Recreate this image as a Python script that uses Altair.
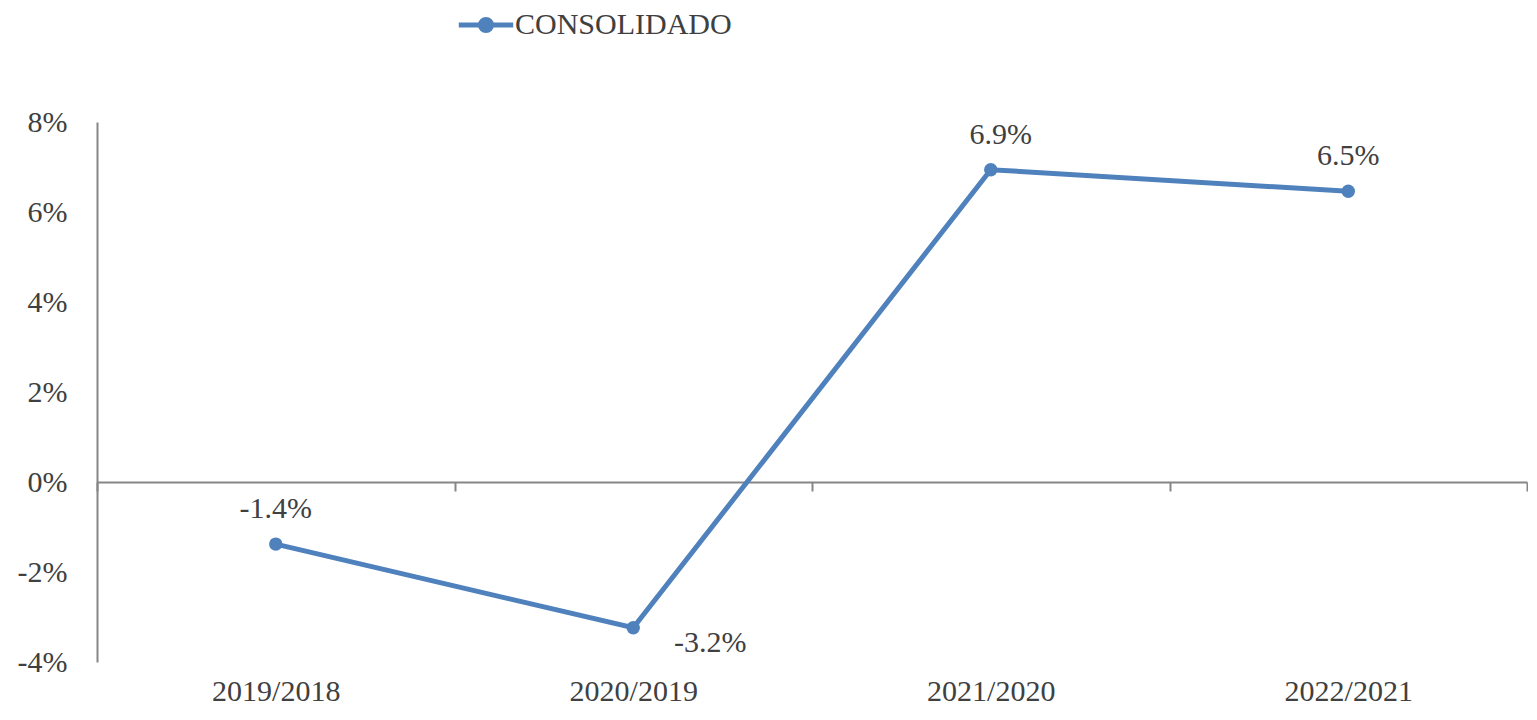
import altair as alt
import pandas as pd

categories = ["2019/2018", "2020/2019", "2021/2020", "2022/2021"]
values = [-1.38, -3.24, 6.94, 6.46]
series_name = "CONSOLIDADO"
y_ticks = [-4, -2, 0, 2, 4, 6, 8]

df = pd.DataFrame({"periodo": categories, "valor": values, "serie": [series_name] * len(categories)})

FONT = "Liberation Serif"
FS = 30
TEXT = "#404040"
AXIS = "#868686"
BLUE = "#4F81BD"

legend_path = ("M-3.4,0L3.4,0"
               "M0.69,0A0.69,0.69,0,1,1,-0.69,0A0.69,0.69,0,1,1,0.69,0"
               "M0.25,0A0.25,0.25,0,1,1,-0.25,0A0.25,0.25,0,1,1,0.25,0")

x_enc = alt.X(
    "periodo:N", sort=categories, title=None,
    scale=alt.Scale(type="band", paddingInner=0, paddingOuter=0),
    axis=alt.Axis(orient="bottom", offset=-180, domainColor=AXIS, domainWidth=2,
                  tickColor=AXIS, tickWidth=2, tickSize=9, tickBand="extent",
                  labelFont=FONT, labelFontSize=FS, labelColor=TEXT,
                  labelPadding=185, labelAngle=0, title=None),
)
y_enc = alt.Y(
    "valor:Q", title=None,
    scale=alt.Scale(domain=[-4, 8], nice=False, zero=False),
    axis=alt.Axis(values=y_ticks, labelExpr="datum.value + '%'", grid=False, ticks=False,
                  domainColor=AXIS, domainWidth=2, labelFont=FONT, labelFontSize=FS,
                  labelColor=TEXT, labelPadding=30, title=None),
)

base = alt.Chart(df).encode(x=x_enc, y=y_enc)

line = base.mark_line(strokeWidth=5, point=alt.OverlayMarkDef(filled=True, size=180, color=BLUE)).encode(
    color=alt.Color("serie:N", scale=alt.Scale(range=[BLUE]),
                    legend=alt.Legend(title=None, orient="none", legendX=374, legendY=-112,
                                      symbolType=legend_path, symbolSize=256, symbolStrokeWidth=5,
                                      symbolFillColor=BLUE, symbolStrokeColor=BLUE,
                                      labelFont=FONT, labelFontSize=FS, labelColor=TEXT,
                                      labelOffset=14, labelLimit=0))
)

labels = base.transform_calculate(
    label="(datum.valor < 0 ? '-' : '') + format(abs(datum.valor), '.1f') + '%'"
)

def text_layer(cats, dx, dy):
    return labels.transform_filter(
        alt.FieldOneOfPredicate(field="periodo", oneOf=cats)
    ).mark_text(font=FONT, fontSize=FS, color=TEXT, dx=dx, dy=dy).encode(text="label:N")

t1 = text_layer(["2019/2018", "2022/2021"], 0, -35)
t2 = text_layer(["2021/2020"], 10, -35)
t3 = text_layer(["2020/2019"], 77, 15)

chart = alt.layer(line, t1, t2, t3).properties(
    width=1430, height=540,
    padding={"left": 9, "top": 2, "right": 0, "bottom": 2},
    background="white",
).configure_view(stroke=None)

chart.save("out.html", embed_options={"renderer": "svg", "actions": False})
